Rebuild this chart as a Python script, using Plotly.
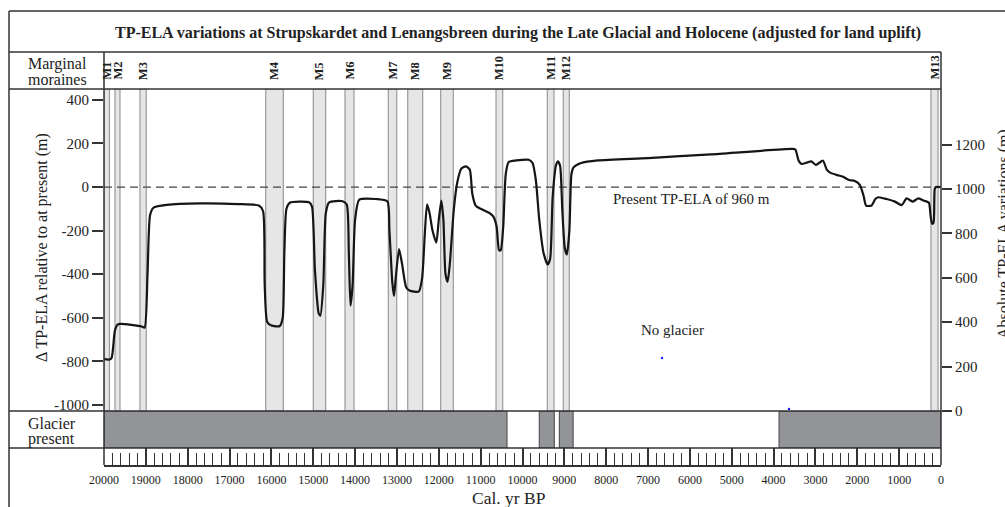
import plotly.graph_objects as go

W, H = 1005, 507
SERIF = "Liberation Serif, Times New Roman, serif"
INK = "#222222"
FRAME = "#333333"

# ---- data ----
years = [20000, 19880, 19820, 19740, 19680, 19600, 19100, 19030, 18960, 18900, 18820, 18500, 17700,
         16800, 16300, 16200, 16160, 16100, 16000, 15800, 15730, 15690, 15640, 15560, 15100, 15030,
         14960, 14870, 14830, 14760, 14700, 14620, 14300, 14200, 14150, 14110, 14060, 14000, 13900,
         13500, 13230, 13180, 13110, 13070, 13030, 12950, 12880, 12780, 12700, 12480, 12400, 12330,
         12280, 12220, 12150, 12060, 12000, 11940, 11890, 11840, 11790, 11740, 11640, 11560, 11460,
         11350, 11260, 11200, 11120, 11000, 10800, 10700, 10620, 10560, 10520, 10460, 10400, 10330,
         10150, 9850, 9760, 9680, 9600, 9500, 9400, 9340, 9280, 9200, 9150, 9100, 9050, 8990, 8940,
         8880, 8830, 8780, 8600, 8200, 7000, 5500, 3550, 3480, 3400, 3330, 3210, 3100, 2990, 2820,
         2730, 2650, 2500, 2340, 2200, 2060, 1940, 1850, 1790, 1660, 1570, 1500, 1300, 1100, 940,
         820, 680, 540, 400, 290, 250, 215, 180, 150, 120, 20]
delta_ela = [-790, -792, -785, -660, -632, -628, -640, -645, -400, -130, -95, -82, -75,
             -78, -85, -110, -450, -620, -636, -638, -600, -300, -100, -72, -70, -90,
             -380, -580, -590, -450, -120, -70, -65, -80, -300, -545, -450, -150, -58,
             -55, -65, -200, -440, -500, -420, -285, -350, -460, -475, -480, -420, -200,
             -80, -120, -200, -255, -150, -62, -150, -400, -435, -360, -100, 20, 85,
             95, 80, -30, -85, -100, -118, -135, -180, -290, -290, -180, 60, 115,
             122, 125, 110, 30, -150, -300, -355, -330, -50, 100, 118, 95, -100, -280, -310,
             -200, 60, 90, 110, 122, 133, 150, 175, 172, 120, 106, 112, 118, 102, 121,
             80, 66, 56, 47, 32, 28, 10, -40, -85, -85, -55, -47, -55, -67, -83,
             -52, -67, -52, -63, -72, -130, -168, -165, -10, 0, 0]

moraine_names = ["M1", "M2", "M3", "M4", "M5", "M6", "M7", "M8", "M9", "M10", "M11", "M12", "M13"]
moraine_start = [20000, 19737, 19140, 16136, 14999, 14241, 13206, 12743, 11955, 10633, 9407, 9025, 240]
moraine_end = [19870, 19618, 18990, 15715, 14703, 14026, 13006, 12385, 11653, 10473, 9247, 8882, 70]

glacier_start = [20000, 9600, 9120, 3870]
glacier_end = [10370, 9240, 8790, 0]

left_ticks = [-1000, -800, -600, -400, -200, 0, 200, 400]
right_ticks = [0, 200, 400, 600, 800, 1000, 1200]
x_ticks = list(range(0, 20001, 1000))

present_ela_delta = 0
blue_dots_x = [6667, 3632]
blue_dots_y = [-785, -1019]

# ---- geometry helpers (pixel -> paper) ----
def px(x):
    return x / W

def py(y):
    return 1 - y / H

X0, X1 = 104, 941
xdom = [px(X0), px(X1)]

fig = go.Figure()

# moraine bands
fig.add_trace(go.Bar(
    x=[(a + b) / 2 for a, b in zip(moraine_start, moraine_end)],
    width=[abs(a - b) for a, b in zip(moraine_start, moraine_end)],
    y=[1478] * len(moraine_start), base=[-1028] * len(moraine_start),
    marker=dict(color="#e6e6e6", line=dict(color="#9a9a9a", width=1.2)),
    xaxis="x", yaxis="y", hoverinfo="skip", showlegend=False))

# present ELA dashed line
fig.add_trace(go.Scatter(
    x=[20000, 0], y=[present_ela_delta, present_ela_delta], mode="lines",
    line=dict(color="#444444", width=1.3, dash="8px,5px"),
    xaxis="x", yaxis="y", hoverinfo="skip", showlegend=False))

# ELA curve
fig.add_trace(go.Scatter(
    x=years, y=delta_ela, mode="lines",
    line=dict(color="#151515", width=2.2, shape="spline", smoothing=0.6),
    xaxis="x", yaxis="y", showlegend=False))

# blue dots
fig.add_trace(go.Scatter(
    x=blue_dots_x, y=blue_dots_y, mode="markers",
    marker=dict(color="#2020ff", size=2.5),
    xaxis="x", yaxis="y", showlegend=False, cliponaxis=False))

# dummy trace for right axis
fig.add_trace(go.Scatter(x=[None], y=[None], xaxis="x", yaxis="y4", showlegend=False))

# glacier present bars
fig.add_trace(go.Bar(
    x=[(a + b) / 2 for a, b in zip(glacier_start, glacier_end)],
    width=[abs(a - b) for a, b in zip(glacier_start, glacier_end)],
    y=[1] * len(glacier_start), base=[0] * len(glacier_start),
    marker=dict(color="#939498", line=dict(color="#444444", width=1)),
    xaxis="x2", yaxis="y2", hoverinfo="skip", showlegend=False))

# ruler axis dummy
fig.add_trace(go.Scatter(x=[None], y=[None], xaxis="x3", yaxis="y3", showlegend=False))

tickfont = dict(family=SERIF, size=15, color=INK)
common = dict(showgrid=False, zeroline=False, showline=False, automargin=False)

fig.update_layout(
    width=W, height=H, margin=dict(l=0, r=0, t=0, b=0, pad=0, autoexpand=False),
    paper_bgcolor="white", plot_bgcolor="rgba(0,0,0,0)",
    barmode="overlay", showlegend=False,
    xaxis=dict(domain=xdom, range=[20000, 0], anchor="y", showticklabels=False, ticks="", **common),
    yaxis=dict(domain=[py(411), py(89)], range=[-1028, 450], anchor="x",
               tickvals=left_ticks, ticktext=[str(v) for v in left_ticks],
               ticks="outside", ticklen=11, tickwidth=1.5, tickcolor=FRAME,
               tickfont=tickfont, **common),
    yaxis4=dict(overlaying="y", side="right", anchor="x", range=[0, 1450],
                tickvals=right_ticks, ticktext=[str(v) for v in right_ticks],
                ticks="outside", ticklen=10, tickwidth=1.5, tickcolor=FRAME,
                tickfont=tickfont, **common),
    xaxis2=dict(domain=xdom, range=[20000, 0], anchor="y2", matches="x", showticklabels=False,
                ticks="", **common),
    yaxis2=dict(domain=[py(448), py(411)], range=[0, 1], showticklabels=False, ticks="", **common),
    xaxis3=dict(domain=xdom, range=[20000, 0], anchor="y3", matches="x",
                tickvals=x_ticks, ticktext=[str(v) for v in x_ticks],
                ticks="inside", ticklen=17, tickwidth=1.5, tickcolor=FRAME,
                minor=dict(dtick=200, ticks="inside", ticklen=12, tickwidth=1.2, tickcolor=FRAME),
                tickfont=dict(family=SERIF, size=12, color=INK), ticklabelstandoff=3,
                showgrid=False, zeroline=False, showline=True, linecolor=FRAME, linewidth=1.5,
                automargin=False),
    yaxis3=dict(domain=[py(465), py(448)], range=[0, 1], showticklabels=False, ticks="", **common),
)

# frame lines (layout decoration)
frame_lines = [
    (9, 11, 1005, 11), (9, 11, 9, 507),
    (9, 52, 941, 52), (9, 89, 941, 89), (9, 411, 941, 411), (9, 448, 941, 448),
    (104, 52, 104, 465), (941, 52, 941, 465),
]
for x0, y0, x1, y1 in frame_lines:
    fig.add_shape(type="line", xref="paper", yref="paper",
                  x0=px(x0), y0=py(y0), x1=px(x1), y1=py(y1),
                  line=dict(color=FRAME, width=1.5), layer="above")

def ann(text, x, y, size, xanchor="center", yanchor="middle", angle=0, xref="paper", yref="paper", **kw):
    fig.add_annotation(text=text, x=x, y=y, xref=xref, yref=yref, showarrow=False,
                       xanchor=xanchor, yanchor=yanchor, textangle=angle,
                       font=dict(family=SERIF, size=size, color=kw.pop("color", INK)), **kw)

ann("<b>TP-ELA variations at Strupskardet and Lenangsbreen during the Late Glacial and Holocene (adjusted for land uplift)</b>",
    px(518), py(33), 16)
ann("Marginal", px(26), py(64.5), 16, xanchor="left")
ann("moraines", px(26), py(79.5), 16, xanchor="left")
ann("Glacier", px(26), py(423.5), 16, xanchor="left")
ann("present", px(26), py(438.5), 16, xanchor="left")
ann("Δ TP-ELA relative to at present (m)", px(42), py(248), 16, angle=-90)
ann("Absolute TP-ELA variations (m)", px(1004), py(234), 16, angle=-90)
ann("Cal. yr BP", px(509), py(497.5), 17.5)
ann("Present TP-ELA of 960 m", 7890, -55, 15, xanchor="left", xref="x", yref="y")
ann("No glacier", 6404, -656, 15, xref="x", yref="y")

for name, a, b in zip(moraine_names, moraine_start, moraine_end):
    ann("<b>" + name + "</b>", (a + b) / 2, py(82), 12.5, yanchor="bottom", angle=-90, xref="x")

fig.write_html("out.html", config={"displayModeBar": False},
               post_script="document.body.style.margin='0px';")
